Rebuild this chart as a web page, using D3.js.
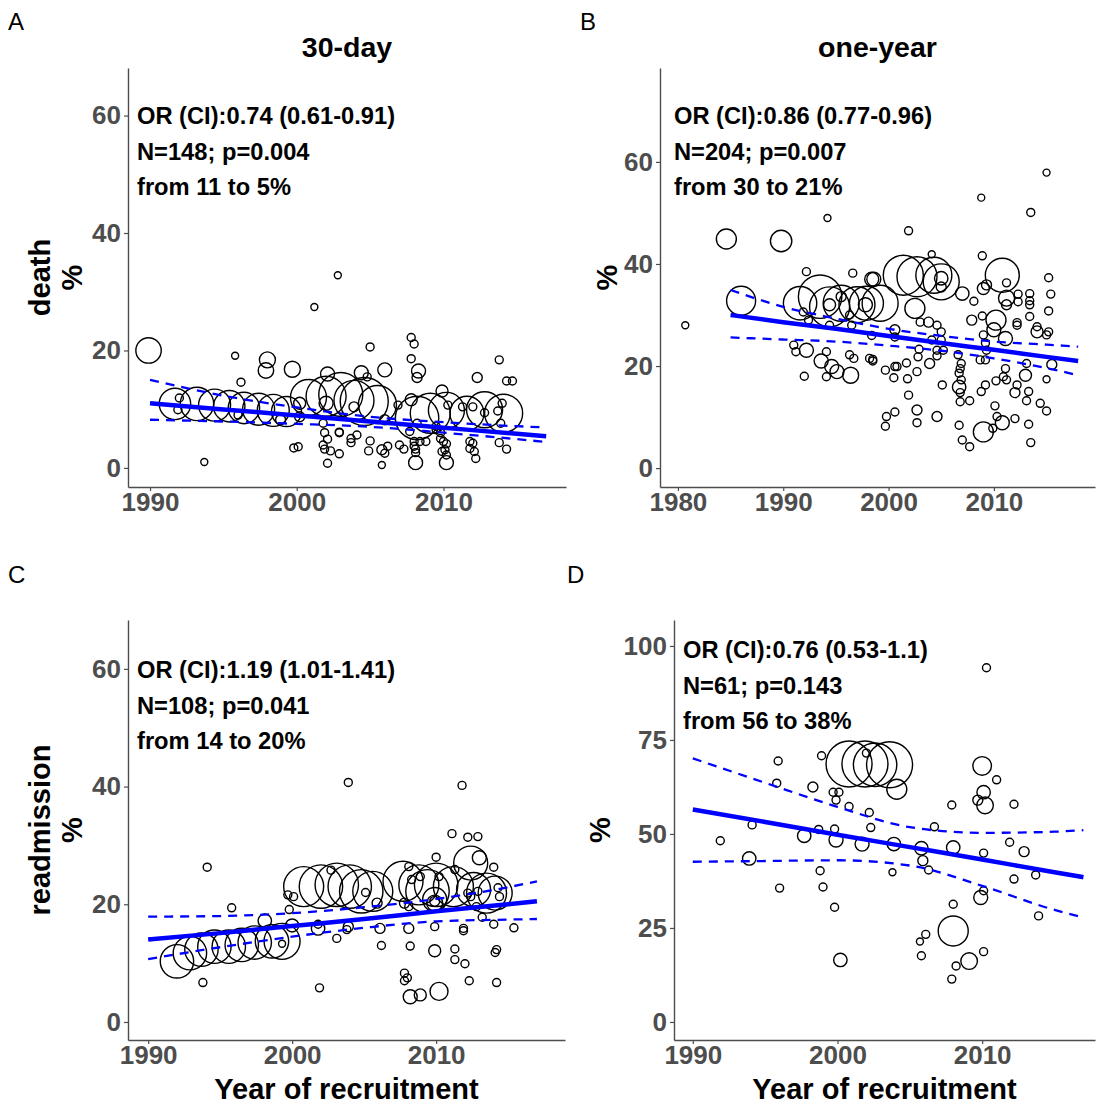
<!DOCTYPE html>
<html><head><meta charset="utf-8">
<script src="https://cdn.jsdelivr.net/npm/d3@7"></script>
<style>body{margin:0;background:#fff}svg{display:block}text{font-family:"Liberation Sans",Arial,sans-serif}</style>
</head><body><svg id="c" width="1096" height="1104"></svg>
<script>
// ---------- DATA: [year of recruitment, %, study size] ----------
const death30 = [
[1989.9,20.0,645],[1993.7,1.0,49],[2002.8,32.8,49],[2001.2,27.4,49],[1995.8,19.1,49],[1998.0,18.4,256],[1997.9,16.6,240],
[1999.7,16.8,256],[2002.1,16.0,196],[1996.2,14.6,64],
[1991.7,10.9,986],[1993.2,10.9,1116],[1994.4,10.7,1024],[1995.4,10.5,986],[1996.4,10.2,986],[1997.4,10.0,1024],[1998.4,9.8,1024],[1999.3,9.6,900],
[2000.8,12.0,1296],[2002.0,12.2,1600],[2003.0,12.5,1936],[2003.9,11.5,1600],[2004.6,11.3,2304],[2005.5,10.8,1444],
[2008.2,8.5,1884],[2009.1,9.3,1600],[2010.2,9.8,1296],[2011.6,9.3,1156],[2012.8,9.9,1296],[2014.1,9.3,1444],
[2005.0,20.6,64],[2007.8,22.2,64],[2008.0,21.1,64],[2007.8,18.6,64],[2008.3,16.5,196],[2008.2,15.4,100],[2006.0,16.7,196],
[2004.4,16.2,196],[2004.8,15.5,64],[2012.3,15.4,100],[2013.8,18.4,64],[2014.3,14.8,64],[2014.7,14.8,64],[2009.9,13.1,144],
[2007.8,11.6,144],[2006.9,10.7,64],[2006.0,8.2,100],[2003.9,10.4,100],[2002.9,6.0,64],[2003.7,5.0,64],[2003.7,4.3,64],
[2004.1,5.6,64],[2005.0,4.6,64],[2004.9,2.9,64],[2002.9,2.4,64],[2005.8,3.1,100],[2006.0,2.5,64],[2006.2,3.7,64],
[2005.8,0.5,49],[2007.0,3.9,64],[2007.3,3.2,64],[2008.0,4.5,64],[2008.0,3.7,64],[2008.1,3.2,64],[2008.1,2.6,64],
[2008.4,4.5,64],[2008.1,0.9,196],[2008.8,4.5,64],[2009.9,2.8,64],[2010.1,3.1,64],[2010.2,2.2,64],[2010.2,0.9,196],
[2009.8,6.0,64],[2009.8,5.0,64],[2010.0,4.5,64],[2010.2,4.1,64],[2011.8,4.5,64],[2012.0,4.2,64],[2011.8,3.3,64],
[2012.1,2.8,64],[2012.2,1.6,64],[2013.8,4.3,64],[2014.3,3.2,64],[2013.9,7.6,64],[2014.0,11.0,64],[2010.3,10.7,64],
[2011.3,10.4,64],[2012.0,10.4,64],[2012.8,9.4,64],[2013.7,9.7,64],[2009.5,6.5,64],[2009.5,7.1,64],[2008.2,7.6,64],
[2007.7,6.2,64],[1999.8,3.4,64],[2000.1,3.6,64],[2001.8,7.6,64],[2001.9,6.0,64],[2002.1,4.9,64],[2001.8,3.9,64],
[2001.9,3.2,64],[2002.3,2.9,64],[2002.1,0.8,64],[2002.9,6.1,64],[2000.2,11.0,144],[2000.2,8.7,100],[1992.0,11.9,64],
[1991.9,9.9,64],[1996.0,9.0,64],[1998.9,8.2,100],[2002.0,11.0,196]
];
const deathYear = [
[1980.7,28.0,49],[1984.6,44.9,400],[1989.8,44.5,458],[1994.2,49.0,49],[1986.0,32.8,841],[1992.2,38.5,64],[1996.6,38.2,64],
[1991.6,32.3,1116],[1993.5,33.6,1884],[1994.4,31.6,1600],[1995.5,32.3,1296],[1997.0,32.0,1296],[1997.9,32.3,1156],
[1998.4,37.0,196],[1995.5,33.6,100],[1994.4,32.0,144],[1991.9,30.6,64],[1992.4,29.0,64],[1994.4,28.0,64],[1996.3,30.0,64],
[1996.5,28.0,64],[1997.8,32.0,196],[1991.0,24.1,64],[1991.2,22.8,64],[1992.2,23.1,196],[1994.1,22.8,64],[1993.6,21.0,196],
[1994.6,19.9,196],[1995.1,18.9,196],[1994.1,17.9,64],[1992.0,18.0,64],[1996.4,18.2,256],[1996.3,22.2,64],[1996.7,21.5,64],
[1998.2,21.5,64],[1998.5,21.0,64],[1998.4,26.0,64],
[2015.0,57.9,49],[2008.8,53.0,49],[2013.5,50.1,64],[2001.9,46.5,64],[2004.1,41.9,49],[2008.9,41.6,64],
[2001.4,37.8,1600],[2002.7,37.5,1600],[2004.3,37.8,1296],[2005.0,36.5,1296],[1998.6,37.0,196],[1999.2,32.3,1296],
[2010.8,37.8,1156],[2007.0,34.2,180],[2005.0,37.2,180],[2005.0,35.5,100],[2002.5,31.3,400],[2011.2,33.3,256],
[2011.2,32.0,100],[2010.2,29.0,400],[2010.0,27.1,196],[2011.1,25.4,196],[2009.0,35.2,144],[2009.3,35.9,100],
[2011.2,36.3,64],[2008.1,32.7,64],[2007.9,29.0,100],[2008.9,29.8,64],[2012.3,34.1,64],[2012.3,32.6,64],[2013.4,34.2,64],
[2013.4,32.8,64],[2013.4,32.0,64],[2013.4,29.7,64],[2015.2,30.8,64],[2015.4,34.1,64],[2015.2,37.3,64],[2012.2,28.5,64],
[2012.2,28.0,64],[2014.1,27.7,64],[2014.1,26.7,144],[2015.2,26.7,64],[2015.0,26.1,64],[2015.5,20.3,100],[2013.1,20.5,64],
[2013.0,18.2,144],[2015.0,17.4,49],[2011.1,19.5,64],[2010.9,17.9,64],[2011.2,17.3,64],[2012.2,16.3,64],[2012.0,14.8,100],
[2013.1,13.2,64],[2014.4,12.7,64],[2015.0,11.2,64],[2013.3,15.0,64],[2013.3,8.6,64],[2013.5,5.0,64],[2010.2,17.1,64],
[2009.2,16.3,64],[2008.8,15.0,64],[2010.1,12.2,64],[2010.3,10.1,64],[2010.8,8.9,196],[2012.0,9.7,64],[2009.0,7.1,400],
[2009.9,7.8,64],[2006.7,15.9,180],[2006.9,17.3,64],[2006.8,19.5,64],[2006.7,18.6,64],[2006.8,14.8,64],[2006.8,13.0,64],
[2007.7,13.2,64],[2006.7,8.4,64],[2007.0,5.5,64],[2007.7,4.2,64],[2006.6,22.2,64],[2006.9,20.5,64],[2005.2,23.1,64],
[2005.1,16.3,64],[2004.6,10.1,100],[2002.7,11.4,100],[2002.7,8.9,64],[1999.8,10.1,64],[1999.7,8.2,64],[2000.6,11.0,64],
[2001.9,14.3,64],[2001.8,17.5,64],[2000.5,17.7,64],[1999.7,19.2,64],[2000.8,19.9,64],[2002.7,18.9,64],[2003.9,20.5,100],
[2004.6,22.0,64],[2004.6,23.1,64],[2005.0,25.1,64],[2005.0,26.7,64],[2004.1,25.1,64],[2002.9,23.3,64],[2002.8,21.8,64],
[2001.7,20.6,64],[2000.6,19.9,64],[1998.5,21.3,64],[2000.6,27.1,100],[2000.6,25.7,64],[2003.0,28.6,64],[2003.8,28.6,100],
[2004.6,28.0,64],[2009.0,26.1,64],[2009.2,24.5,64],[2009.3,23.1,64],[2009.2,21.2,64],[2008.7,21.2,64]
];
const readm30 = [
[1994.1,26.3,64],[1993.8,6.7,64],[1995.8,19.4,64],[1992.0,10.3,1116],[1992.9,11.7,1116],[1993.7,12.3,1116],[1994.6,12.8,1116],
[1995.6,12.8,1116],[1996.5,13.1,1116],[1997.4,13.5,1116],[1998.6,13.7,1116],[1999.3,13.7,1296],[1998.1,17.2,180],
[2000.0,16.4,170],[1999.3,13.3,49],[1999.8,19.1,64],[2001.8,15.9,180],[2003.1,14.2,64],[2001.9,5.8,64],[2001.8,16.6,64],
[1999.7,21.6,64],[2000.1,21.3,64],[2002.7,25.8,64],[2000.8,23.0,1600],[2002.0,23.0,1884],[2003.1,23.3,1884],
[2003.9,40.7,64],[2011.8,40.2,64],[2011.1,32.0,64],[2012.2,31.4,64],[2012.9,31.5,64],[2012.4,27.0,1156],[2013.0,27.9,196],
[2014.0,26.3,64],[2010.0,28.0,64],[2004.0,23.0,1884],[2004.8,22.2,1884],[2005.6,22.2,1600],[2007.7,23.9,1600],
[2008.8,23.3,1600],[2009.4,22.2,1884],[2010.0,23.3,1884],[2011.2,23.0,1600],[2012.6,22.5,1156],[2013.5,21.9,1600],
[2014.1,21.9,1156],[2009.9,20.8,576],[2009.9,20.2,256],[2009.9,20.5,100],[2005.1,22.0,64],[2005.9,20.2,100],[2008.1,26.4,64],
[2008.9,24.7,64],[2008.3,24.2,64],[2007.8,20.2,100],[2008.1,19.6,64],[2010.2,24.7,64],[2011.3,25.9,64],[2012.2,21.9,64],
[2012.9,22.2,64],[2012.4,21.3,64],[2014.3,22.8,64],[2014.4,21.3,64],[2015.4,16.0,64],[2013.2,17.8,64],[2014.0,16.6,64],
[2012.8,19.6,64],[2003.9,16.2,100],[2003.8,15.7,64],[2006.1,15.9,100],[2008.1,15.9,100],[2009.9,16.2,64],[2011.9,15.9,64],
[2011.9,15.5,64],[2006.2,13.0,64],[2008.2,12.9,64],[2009.9,12.1,144],[2011.3,12.4,64],[2011.3,10.6,64],[2012.0,9.9,64],
[2014.1,11.8,64],[2014.2,12.3,64],[2007.8,8.3,64],[2008.0,7.5,64],[2007.8,7.0,64],[2012.3,7.0,64],[2014.2,6.7,64],
[2008.2,4.3,196],[2008.9,4.6,144],[2010.2,5.2,324]
];
const readmYear = [
[1991.9,48.2,64],[1993.9,43.5,180],[1994.1,52.4,64],[1995.9,69.4,64],[1995.8,63.5,64],[1996.0,35.6,64],[1998.9,70.8,64],
[1998.3,62.5,100],[1999.7,61.1,64],[2000.1,61.1,64],[1999.9,59.0,64],[2000.8,57.3,64],[2002.2,55.7,64],[2002.3,51.7,64],
[1998.7,51.2,64],[1999.8,51.3,64],[1997.7,49.5,180],[1999.9,48.4,196],[2001.7,47.3,196],[1998.8,40.2,64],[1999.0,35.9,64],
[1999.8,30.5,64],[2000.2,16.5,180],[2000.8,68.6,2116],[2001.9,68.6,2116],[2002.0,71.5,64],[2002.6,68.4,1884],
[2003.6,68.4,2116],[2004.1,61.9,400],[2010.3,94.2,64],[2010.0,68.1,346],[2011.0,64.4,64],[2010.1,61.1,180],[2009.7,59.0,100],
[2010.2,57.6,276],[2007.9,57.7,64],[2012.2,57.9,64],[2006.7,51.9,64],[2003.9,47.3,180],[2005.8,46.2,180],[2008.0,46.4,180],
[2005.9,42.9,100],[2003.8,39.8,49],[2006.3,40.4,64],[2010.1,44.9,64],[2011.9,47.8,64],[2012.9,45.3,100],[2012.2,38.0,64],
[2013.7,39.1,64],[2010.1,34.9,64],[2009.9,33.1,196],[2008.0,31.3,64],[2013.9,28.2,64],[2008.0,24.2,900],[2006.1,23.3,64],
[2005.7,21.4,49],[2005.8,17.6,64],[2010.1,18.7,64],[2009.1,16.2,276],[2008.2,14.9,64],[2007.9,11.4,64]
];

// fitted trend (solid) and 95% CI (dashed), read at these years
const fitYearsA = [1990,1995,2000,2005,2010,2015,2017];
const fitA   = [11.0,9.96,8.93,7.9,6.85,5.8,5.4];
const upperA = [15.0,12.3,10.3,8.7,7.8,7.1,6.9];
const lowerA = [8.2,7.9,7.5,7.0,6.0,4.9,4.4];
const fitYearsB = [1985,1990,1995,2000,2005,2010,2015,2018];
const fitB   = [30.0,28.6,27.3,25.9,24.5,23.2,21.8,21.0];
const upperB = [34.9,31.6,29.3,27.3,25.9,24.8,24.2,23.8];
const lowerB = [25.6,25.2,24.8,24.0,23.0,21.5,19.6,18.2];
const fitYearsC = [1990,1995,2000,2005,2010,2015,2017];
const fitC   = [14.0,15.1,16.3,17.5,18.8,20.0,20.5];
const upperC = [17.9,18.0,18.5,19.5,20.9,22.9,23.9];
const lowerC = [10.7,12.7,14.5,16.0,17.1,17.4,17.5];
const fitYearsD = [1990,1995,2000,2005,2010,2015,2017];
const fitD   = [56.5,53.2,49.8,46.5,43.2,39.8,38.5];
const upperD = [70.1,63.6,57.2,51.8,50.3,50.6,51.0];
const lowerD = [42.6,42.8,43.0,41.6,36.2,29.8,27.8];

const annoA = ["OR (CI):0.74 (0.61-0.91)","N=148; p=0.004","from 11 to 5%"];
const annoB = ["OR (CI):0.86 (0.77-0.96)","N=204; p=0.007","from 30 to 21%"];
const annoC = ["OR (CI):1.19 (1.01-1.41)","N=108; p=0.041","from 14 to 20%"];
const annoD = ["OR (CI):0.76 (0.53-1.1)","N=61; p=0.143","from 56 to 38%"];

const xTicksAC = [1990,2000,2010];
const xTicksB = [1980,1990,2000,2010];
const yTicksABC = [0,20,40,60];
const yTicksD = [0,25,50,75,100];

// ---------- LAYOUT ----------
const svg = d3.select("#c");
const rScale = d3.scaleSqrt().domain([0,2500]).range([0,25]);
const BLUE = "#0000ff", AX = "#4d4d4d";

const panels = [
 {id:"A", pts:death30, fy:fitYearsA, fit:fitA, up:upperA, lo:lowerA, anno:annoA, xt:xTicksAC, yt:yTicksABC,
  x0:128,x1:566,y0:68,y1:487, xd:[1988.5,2018.35], yd:[-3.25,68.1], ax:137, ay:124,
  letter:[8,30], title:"30-day", ylab:["death","%"], ylx:[40,72]},
 {id:"B", pts:deathYear, fy:fitYearsB, fit:fitB, up:upperB, lo:lowerB, anno:annoB, xt:xTicksB, yt:yTicksABC,
  x0:660,x1:1095,y0:68,y1:487, xd:[1978.3,2019.6], yd:[-3.7,78.4], ax:674, ay:124,
  letter:[580,30], title:"one-year", ylab:["%"], ylx:[607]},
 {id:"C", pts:readm30, fy:fitYearsC, fit:fitC, up:upperC, lo:lowerC, anno:annoC, xt:xTicksAC, yt:yTicksABC,
  x0:128,x1:565,y0:620,y1:1040, xd:[1988.6,2018.95], yd:[-3.06,68.3], ax:137, ay:678,
  letter:[8,583], xlab:"Year of recruitment", ylab:["readmission","%"], ylx:[40,72]},
 {id:"D", pts:readmYear, fy:fitYearsD, fit:fitD, up:upperD, lo:lowerD, anno:annoD, xt:xTicksAC, yt:yTicksD,
  x0:674,x1:1095,y0:620,y1:1040, xd:[1988.7,2017.8], yd:[-4.8,106.9], ax:683, ay:658,
  letter:[567,583], xlab:"Year of recruitment", ylab:["%"], ylx:[600]}
];

panels.forEach(p => {
  const x = d3.scaleLinear().domain(p.xd).range([p.x0,p.x1]);
  const y = d3.scaleLinear().domain(p.yd).range([p.y1,p.y0]);
  const g = svg.append("g");
  g.append("clipPath").attr("id","clip"+p.id).append("rect")
    .attr("x",p.x0).attr("y",p.y0).attr("width",p.x1-p.x0).attr("height",p.y1-p.y0);
  const plot = g.append("g").attr("clip-path","url(#clip"+p.id+")");
  plot.selectAll("circle").data(p.pts).join("circle")
    .attr("cx",d=>x(d[0])).attr("cy",d=>y(d[1])).attr("r",d=>rScale(d[2]))
    .attr("fill","none").attr("stroke","#000").attr("stroke-width",1.4);
  const line = vals => d3.line().curve(d3.curveMonotoneX)
     .x((d,i)=>x(p.fy[i])).y(d=>y(d))(vals);
  [p.up,p.lo].forEach(v => plot.append("path").attr("d",line(v)).attr("fill","none")
     .attr("stroke",BLUE).attr("stroke-width",2.3).attr("stroke-dasharray","9,7"));
  plot.append("path").attr("d",line(p.fit)).attr("fill","none").attr("stroke",BLUE).attr("stroke-width",4.5);

  const styleAxis = a => {
    a.select(".domain").attr("stroke",AX).attr("stroke-width",1.4);
    a.selectAll(".tick line").attr("stroke",AX).attr("stroke-width",1.2);
    a.selectAll(".tick text").attr("fill",AX).attr("font-size",26).attr("font-weight","bold")
      .attr("font-family","'Liberation Sans',Arial,sans-serif");
  };
  g.append("g").attr("transform",`translate(${p.x0},0)`)
    .call(d3.axisLeft(y).tickValues(p.yt).tickSize(4).tickSizeOuter(0).tickPadding(3).tickFormat(d3.format("d")))
    .call(styleAxis);
  g.append("g").attr("transform",`translate(0,${p.y1})`)
    .call(d3.axisBottom(x).tickValues(p.xt).tickSize(4).tickSizeOuter(0).tickPadding(2).tickFormat(d3.format("d")))
    .call(styleAxis);

  p.anno.forEach((t,i)=> g.append("text").attr("x",p.ax).attr("y",p.ay+i*35.5)
    .attr("font-size",23.7).attr("font-weight","bold").attr("fill","#000").text(t));

  g.append("text").attr("x",p.letter[0]).attr("y",p.letter[1]).attr("font-size",24).attr("fill","#000").text(p.id);
  if (p.title) g.append("text").attr("x",(p.x0+p.x1)/2).attr("y",57).attr("text-anchor","middle")
    .attr("font-size",28.5).attr("font-weight","bold").text(p.title);
  if (p.xlab) g.append("text").attr("x",(p.x0+p.x1)/2).attr("y",1099).attr("text-anchor","middle")
    .attr("font-size",29).attr("font-weight","bold").text(p.xlab);
  p.ylab.forEach((t,i)=> g.append("text")
    .attr("transform",`translate(${p.ylx[i]},${(p.y0+p.y1)/2}) rotate(-90)`)
    .attr("text-anchor","middle").attr("dy","0.35em")
    .attr("font-size",29).attr("font-weight","bold").text(t));
});
</script></body></html>
